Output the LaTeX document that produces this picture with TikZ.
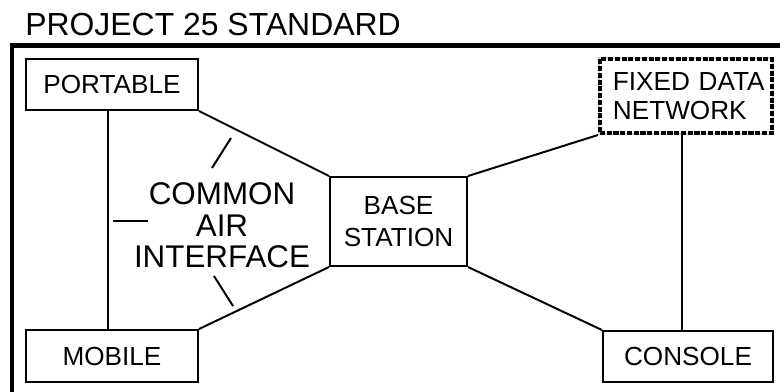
\documentclass[tikz,border=0pt]{standalone}
\usepackage{fontspec}
\setmainfont{Liberation Sans}
\usetikzlibrary{positioning}
\tikzset{
  unit/.style={draw, line width=1.4pt, inner sep=0pt, align=center,
    font=\fontsize{18.6}{22.8}\selectfont},
  fdnbox/.style={draw=black, fill=white, line width=2.8pt, dash pattern=on 3.6pt off 1.2pt,
    preaction={draw=gray!40, line width=2.8pt, solid},
    inner xsep=0.325cm, inner ysep=0pt, align=left, text width=3.65cm,
    font=\fontsize{18.6}{20.6}\selectfont},
  link/.style={line width=1.4pt},
  big/.style={inner sep=0pt, font=\fontsize{22.3}{22.4}\selectfont}
}

\begin{document}
\begin{tikzpicture}[x=0.025cm,y=-0.025cm]
  \clip (0,0) rectangle (780,391);
  % title and frame
  \node[big, anchor=base west, font=\fontsize{22.7}{24}\selectfont] (title) at (25,35) {PROJECT 25 STANDARD};
  \draw[line width=3.2pt] (12,400) -- (12,45.5) -- (790,45.5);
  % units
  \node[unit, minimum width=4.3cm, minimum height=1.275cm] (portable) at (112,84.5) {PORTABLE};
  \node[unit, minimum width=4.3cm, minimum height=1.3cm] (mobile) at (112,356) {MOBILE};
  \node[unit, minimum width=3.425cm, minimum height=2.225cm] (base) at (398.5,221.5) {BASE\\STATION};
  \node[fdnbox, minimum height=1.85cm] (fdn) at (686,96) {FIXED~DATA\\NETWORK};
  \node[unit, minimum width=4.25cm, minimum height=1.275cm] (console) at (688,356.5) {CONSOLE};
  \node[big, align=center] (cai) at (222,225.5) {COMMON\\AIR\\INTERFACE};
  % links
  \draw[link] ([xshift=-0.1cm]portable.south) -- ([xshift=-0.1cm]mobile.north);
  \draw[link] (portable.south east) -- (base.north west);
  \draw[link] (mobile.north east) -- (base.south west);
  \draw[link] (base.north east) -- (fdn.south west);
  \draw[link] (base.south east) -- (console.north west);
  \draw[link] (682,133) -- (682,331);
  % pointers to the air interface
  \draw[link] (231,138) -- (212,168);
  \draw[link] (113,221) -- (148,221);
  \draw[link] (214,276) -- (233,306);
\end{tikzpicture}
\end{document}
